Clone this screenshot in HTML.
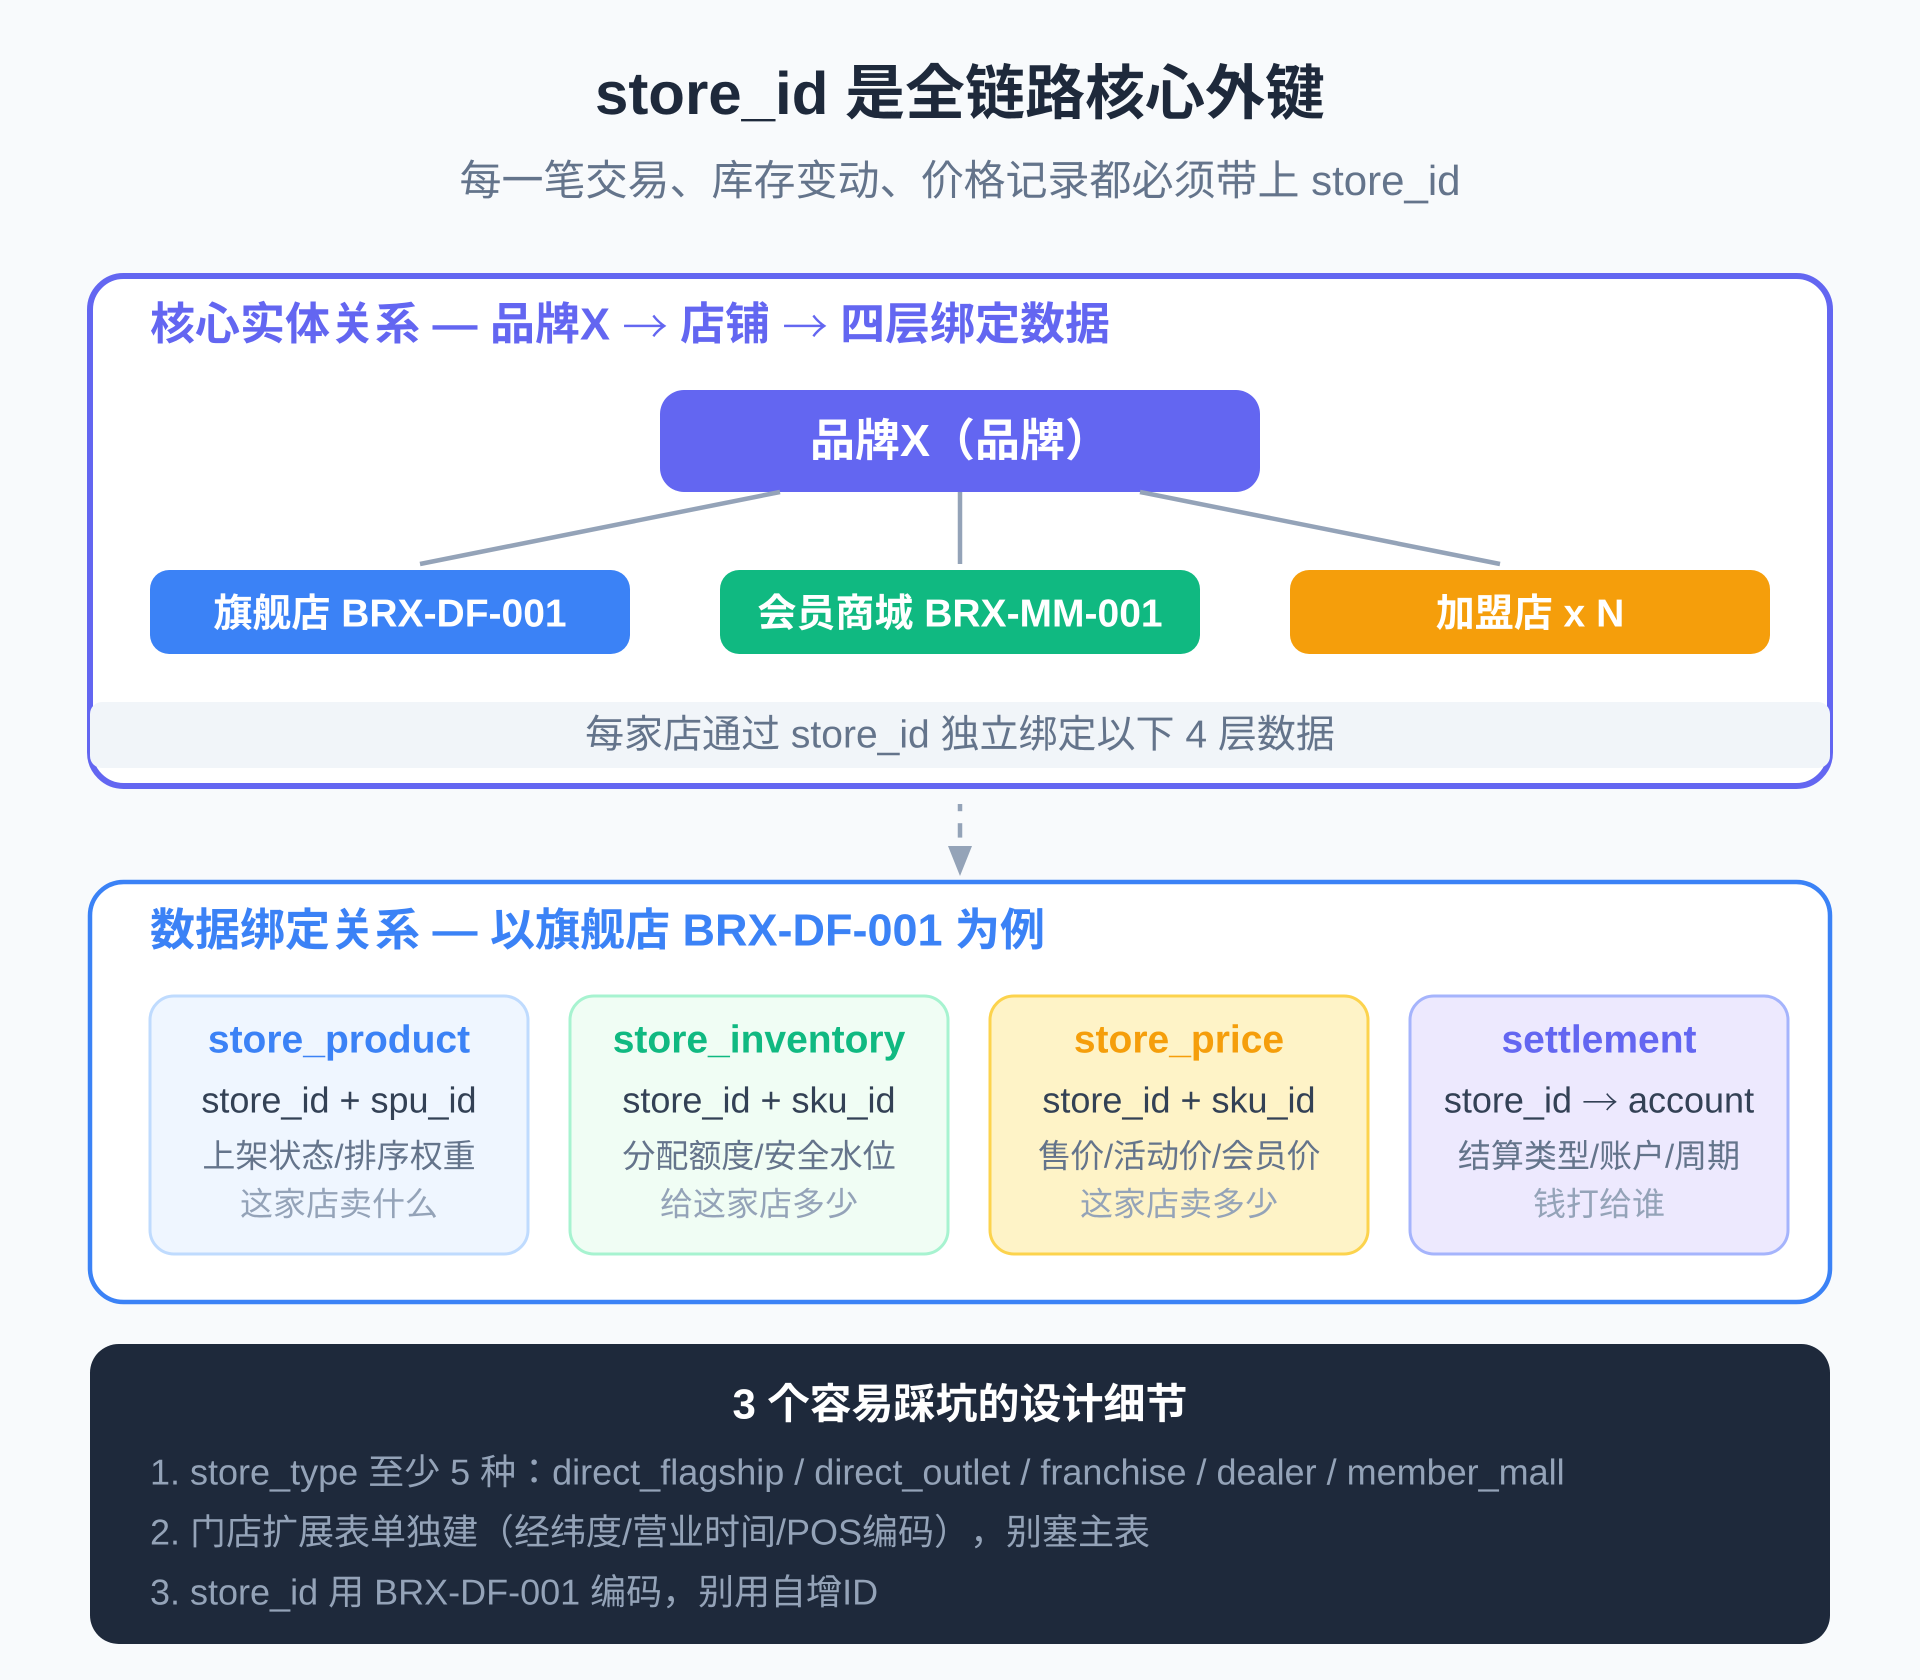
<!DOCTYPE html>
<html><head><meta charset="utf-8">
<style>
html,body{margin:0;padding:0;background:#f8fafc}
svg{display:block}
text{font-family:"Liberation Sans","Noto Sans CJK JP",sans-serif;text-spacing-trim:space-all;font-feature-settings:"palt" 0;text-rendering:geometricPrecision}
.a1{font-family:"Noto Serif CJK SC",serif;font-weight:400;stroke:currentColor;stroke-width:.35}
.a3{font-family:"Noto Serif CJK SC",serif;font-weight:400}
.b{font-weight:700}
.m{text-anchor:middle}
</style></head>
<body>
<svg xmlns="http://www.w3.org/2000/svg" width="1920" height="1680" viewBox="0 0 1600 1400">
<rect width="1600" height="1400" fill="#f8fafc"/>
<text x="800" y="95" class="b m" font-size="50" fill="#1e293b">store_id 是全链路核心外键</text>
<text x="800" y="162.5" class="m" font-size="35" fill="#64748b">每一笔交易、库存变动、价格记录都必须带上 store_id</text>

<rect x="75" y="230" width="1450" height="425" rx="28" fill="#fff" stroke="#6366f1" stroke-width="5"/>
<text x="125" y="283" class="b" font-size="37.5" fill="#6366f1" color="#6366f1">核心实体关系 — 品牌X <tspan class="a1" dy="3">→</tspan><tspan dy="-3"> 店铺 </tspan><tspan class="a1" dy="3">→</tspan><tspan dy="-3"> 四层绑定数据</tspan></text>
<rect x="550" y="325" width="500" height="85" rx="20" fill="#6366f1"/>
<text x="800" y="380" class="b m" font-size="37.5" fill="#fff">品牌X（品牌）</text>
<g stroke="#94a3b8" stroke-width="3.75">
<line x1="650" y1="410" x2="350" y2="470"/>
<line x1="800" y1="410" x2="800" y2="470"/>
<line x1="950" y1="410" x2="1250" y2="470"/>
</g>
<rect x="125" y="475" width="400" height="70" rx="16" fill="#3b82f6"/>
<text x="325" y="522" class="b m" font-size="32.5" fill="#fff">旗舰店 BRX-DF-001</text>
<rect x="600" y="475" width="400" height="70" rx="16" fill="#10b981"/>
<text x="800" y="522" class="b m" font-size="32.5" fill="#fff">会员商城 BRX-MM-001</text>
<rect x="1075" y="475" width="400" height="70" rx="16" fill="#f59e0b"/>
<text x="1275" y="522" class="b m" font-size="32.5" fill="#fff">加盟店 x N</text>
<rect x="75" y="585" width="1450" height="55" rx="10" fill="#f1f5f9"/>
<text x="800" y="623" class="m" font-size="32.5" fill="#64748b">每家店通过 store_id 独立绑定以下 4 层数据</text>

<line x1="800" y1="670" x2="800" y2="676" stroke="#94a3b8" stroke-width="3.75"/>
<line x1="800" y1="686" x2="800" y2="698" stroke="#94a3b8" stroke-width="3.75"/>
<polygon points="790,705 810,705 800,730" fill="#94a3b8"/>

<rect x="75" y="735" width="1450" height="350" rx="28" fill="#fff" stroke="#3b82f6" stroke-width="3.75"/>
<text x="125" y="788" class="b" font-size="37.5" fill="#3b82f6">数据绑定关系 — 以旗舰店 BRX-DF-001 为例</text>

<rect x="125" y="830" width="315" height="215" rx="20" fill="#eff6ff" stroke="#bfdbfe" stroke-width="2.5"/>
<text x="282.5" y="877" class="b m" font-size="32.5" fill="#3b82f6">store_product</text>
<text x="282.5" y="927" class="m" font-size="30" fill="#334155">store_id + spu_id</text>
<text x="282.5" y="973" class="m" font-size="27.5" fill="#64748b">上架状态/排序权重</text>
<text x="282.5" y="1013" class="m" font-size="27.5" fill="#94a3b8">这家店卖什么</text>

<rect x="475" y="830" width="315" height="215" rx="20" fill="#f0fdf4" stroke="#a7f3d0" stroke-width="2.5"/>
<text x="632.5" y="877" class="b m" font-size="32.5" fill="#10b981">store_inventory</text>
<text x="632.5" y="927" class="m" font-size="30" fill="#334155">store_id + sku_id</text>
<text x="632.5" y="973" class="m" font-size="27.5" fill="#64748b">分配额度/安全水位</text>
<text x="632.5" y="1013" class="m" font-size="27.5" fill="#94a3b8">给这家店多少</text>

<rect x="825" y="830" width="315" height="215" rx="20" fill="#fef3c7" stroke="#fcd34d" stroke-width="2.5"/>
<text x="982.5" y="877" class="b m" font-size="32.5" fill="#f59e0b">store_price</text>
<text x="982.5" y="927" class="m" font-size="30" fill="#334155">store_id + sku_id</text>
<text x="982.5" y="973" class="m" font-size="27.5" fill="#64748b">售价/活动价/会员价</text>
<text x="982.5" y="1013" class="m" font-size="27.5" fill="#94a3b8">这家店卖多少</text>

<rect x="1175" y="830" width="315" height="215" rx="20" fill="#ede9fe" stroke="#a5b4fc" stroke-width="2.5"/>
<text x="1332.5" y="877" class="b m" font-size="32.5" fill="#6366f1">settlement</text>
<text x="1332.5" y="927" class="m" font-size="30" fill="#334155">store_id <tspan class="a3" dy="2.5">→</tspan><tspan dy="-2.5"> account</tspan></text>
<text x="1332.5" y="973" class="m" font-size="27.5" fill="#64748b">结算类型/账户/周期</text>
<text x="1332.5" y="1013" class="m" font-size="27.5" fill="#94a3b8">钱打给谁</text>

<rect x="75" y="1120" width="1450" height="250" rx="24" fill="#1e293b"/>
<text x="800" y="1182" class="b m" font-size="35" fill="#fff">3 个容易踩坑的设计细节</text>
<text x="125" y="1237" font-size="30" fill="#94a3b8">1. store_type 至少 5 种：direct_flagship / direct_outlet / franchise / dealer / member_mall</text>
<text x="125" y="1287" font-size="30" fill="#94a3b8">2. 门店扩展表单独建（经纬度/营业时间/POS编码），别塞主表</text>
<text x="125" y="1337" font-size="30" fill="#94a3b8">3. store_id 用 BRX-DF-001 编码，别用自增ID</text>
</svg>
</body></html>
